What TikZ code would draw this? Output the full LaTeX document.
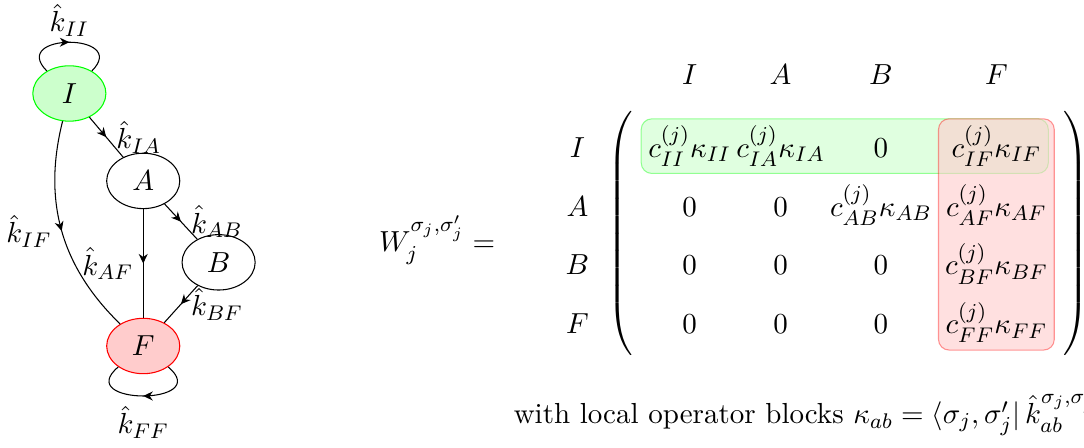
\documentclass[11pt,tikz,border=0pt]{standalone}
\usepackage{amsmath,amssymb}
\usepackage{tikz}
\usetikzlibrary{arrows.meta,positioning,shapes.geometric,decorations.markings,matrix,fit,backgrounds}

\tikzset{
  state/.style={ellipse,draw,minimum width=0.97cm,minimum height=0.57cm},
  midarrow/.style={postaction={decorate},decoration={markings,
      mark=at position 0.5 with {\arrow{Stealth[length=3.6pt,width=3.4pt]}}}},
  hilite/.style={rounded corners=4pt,inner sep=1.5pt,draw opacity=0.4,fill opacity=0.6},
}

\begin{document}
\begin{tikzpicture}
\useasboundingbox (0,0) rectangle (14.38,5.94);
\clip (0,0) rectangle (14.38,5.94);

% chain of states
\node[state,draw=green,fill=green!20] (I) at (0.92,4.70) {$I$};
\node[state,minimum height=0.48cm] (A) at (1.90,3.54) {$A$};
\node[state] (B) at (2.90,2.46) {$B$};
\node[state,draw=red,fill=red!20] (F) at (1.90,1.35) {$F$};

\draw[midarrow] (I) to[out=135,in=45,distance=0.72cm] node[above,inner sep=2pt] {$\hat{k}_{II}$} (I);
\draw[midarrow] (I) -- node[right] {$\hat{k}_{IA}$} (A);
\draw[midarrow] (A) -- node[right] {$\hat{k}_{AB}$} (B);
\draw[midarrow] (A) -- node[left] {$\hat{k}_{AF}$} (F);
\draw[midarrow] (B) -- node[right] {$\hat{k}_{BF}$} (F);
\draw[midarrow] (I) to[bend right=30] node[left] {$\hat{k}_{IF}$} (F);
\draw[midarrow] (F) to[out=-40,in=-140,distance=0.8cm] node[below] {$\hat{k}_{FF}$} (F);

% transfer matrix
\node (lhs) at (5.80,2.76) {$W_j^{\sigma_j,\sigma'_j} =$};
\matrix (W) [matrix of math nodes,left delimiter=(,right delimiter=),inner sep=3.5pt,
    column sep=0pt,row sep=5pt,nodes={inner sep=1pt,anchor=base}] at (11.25,2.83) {
  c^{(j)}_{II}\kappa_{II} & c^{(j)}_{IA}\kappa_{IA} & 0 &[3pt] c^{(j)}_{IF}\kappa_{IF} \\
  0 & 0 & c^{(j)}_{AB}\kappa_{AB} & c^{(j)}_{AF}\kappa_{AF} \\
  0 & 0 & 0 & c^{(j)}_{BF}\kappa_{BF} \\
  0 & 0 & 0 & c^{(j)}_{FF}\kappa_{FF} \\
};
\foreach \s [count=\i] in {I,A,B,F} {
  \node (col\s) at (W-1-\i |- 0,4.95) {$\s$};
  \node[anchor=base] (row\s) at (7.66,0 |- W-\i-4.base) {$\s$};
}

\begin{scope}[on background layer]
  \node[hilite,draw=green,fill=green!20,fit=(W-1-1)(W-1-4)] (rowhl) {};
  \node[hilite,draw=red,fill=red!20,fit=(W-1-4)(W-4-4)] (colhl) {};
\end{scope}

\node[anchor=west] (note) at (6.68,0.48)
  {with local operator blocks $\kappa_{ab} = \langle\sigma_j,\sigma'_j|\,\hat{k}_{ab}^{\sigma_j,\sigma'_j}$};
\end{tikzpicture}
\end{document}
